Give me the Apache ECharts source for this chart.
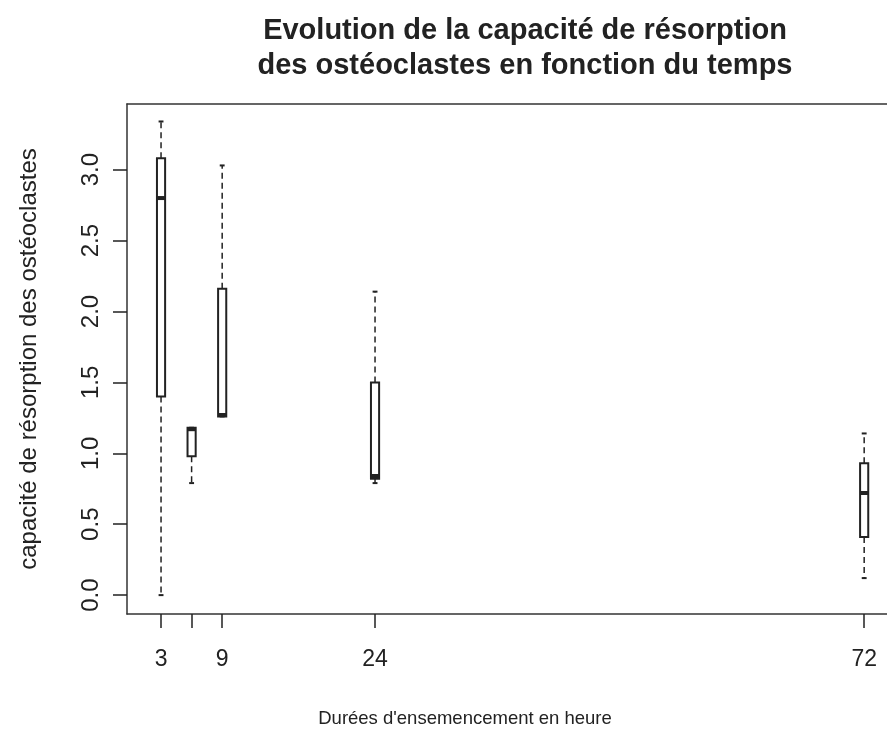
<!DOCTYPE html>
<html>
<head>
<meta charset="utf-8">
<script src="https://cdn.jsdelivr.net/npm/echarts@6/dist/echarts.min.js"></script>
<style>
  html, body { margin: 0; padding: 0; background: #fff; }
  #chart { width: 887px; height: 735px; }
</style>
</head>
<body>
<div id="chart"></div>
<script>
// Seeding duration (hours) and five-number summaries per group
const hours = [3, 6, 9, 24, 72];
const lowerWhisker = [0.00, 0.79, 1.26, 0.79, 0.12];
const lowerHinge   = [1.40, 0.98, 1.26, 0.82, 0.41];
const median       = [2.80, 1.17, 1.27, 0.84, 0.72];
const upperHinge   = [3.08, 1.18, 2.16, 1.50, 0.93];
const upperWhisker = [3.34, 1.18, 3.03, 2.14, 1.14];

const xTickValues = [3, 6, 9, 24, 72];
const xLabelValues = [3, 9, 24, 72];
const yTickValues = [0, 0.5, 1, 1.5, 2, 2.5, 3];

const ink = '#222';
const fontFamily = 'Liberation Sans, Arial, sans-serif';

const boxData = hours.map((h, i) => [h, lowerWhisker[i], lowerHinge[i], median[i], upperHinge[i], upperWhisker[i]]);

function renderBox(params, api) {
  const x = api.value(0);
  const lw = api.value(1), q1 = api.value(2), med = api.value(3), q3 = api.value(4), uw = api.value(5);
  const cx = api.coord([x, 0])[0];
  const py = v => api.coord([x, v])[1];
  const half = api.size([0.8, 0])[0] / 2;
  const cap = half * 0.6;
  const dashed = { stroke: ink, lineWidth: 1.5, lineDash: [6, 4] };
  const solid = { stroke: ink, lineWidth: 2 };
  return {
    type: 'group',
    children: [
      { type: 'line', shape: { x1: cx, y1: py(q3), x2: cx, y2: py(uw) }, style: dashed },
      { type: 'line', shape: { x1: cx, y1: py(q1), x2: cx, y2: py(lw) }, style: dashed },
      { type: 'line', shape: { x1: cx - cap, y1: py(uw), x2: cx + cap, y2: py(uw) }, style: solid },
      { type: 'line', shape: { x1: cx - cap, y1: py(lw), x2: cx + cap, y2: py(lw) }, style: solid },
      { type: 'rect', shape: { x: cx - half, y: py(q3), width: half * 2, height: py(q1) - py(q3) },
        style: { fill: '#fff', stroke: ink, lineWidth: 2 } },
      { type: 'line', shape: { x1: cx - half, y1: py(med), x2: cx + half, y2: py(med) },
        style: { stroke: ink, lineWidth: 4 } }
    ]
  };
}

const xMin = -0.34, xMax = 74.24;
const frameLine = { show: true, onZero: false, lineStyle: { color: '#333', width: 1.5 } };

const chart = echarts.init(document.getElementById('chart'), null, { renderer: 'canvas' });
chart.setOption({
  animation: false,
  backgroundColor: '#fff',
  title: [
    {
      text: 'Evolution de la capacité de résorption\ndes ostéoclastes en fonction du temps',
      left: 520, top: 8, textAlign: 'center',
      textStyle: { fontFamily, fontSize: 29, fontWeight: 'bold', color: ink, lineHeight: 35 }
    },
    {
      text: "Durées d'ensemencement en heure",
      left: 460, top: 704, textAlign: 'center',
      textStyle: { fontFamily, fontSize: 18.5, fontWeight: 'normal', color: ink }
    }
  ],
  grid: { left: 127, top: 104, right: 0, height: 510, show: false },
  xAxis: [
    {
      type: 'value', min: xMin, max: xMax, position: 'bottom',
      axisLine: frameLine,
      splitLine: { show: false },
      axisTick: { show: true, inside: false, length: 14, customValues: xTickValues,
        lineStyle: { color: ink, width: 1.5 } },
      axisLabel: { show: true, margin: 34, customValues: xLabelValues,
        fontFamily, fontSize: 23, color: ink }
    },
    {
      type: 'value', min: xMin, max: xMax, position: 'top',
      axisLine: frameLine,
      splitLine: { show: false },
      axisTick: { show: false },
      axisLabel: { show: false }
    }
  ],
  yAxis: {
    type: 'value', min: -0.1332, max: 3.4632,
    name: 'capacité de résorption des ostéoclastes',
    nameLocation: 'middle', nameGap: 86, nameRotate: 90,
    nameTextStyle: { fontFamily, fontSize: 24, color: ink },
    axisLine: frameLine,
    splitLine: { show: false },
    axisTick: { show: true, inside: false, length: 14, customValues: yTickValues,
      lineStyle: { color: ink, width: 1.5 } },
    axisLabel: { show: true, rotate: 90, margin: 24, customValues: yTickValues,
      fontFamily, fontSize: 24, color: ink,
      formatter: v => v.toFixed(1) }
  },
  series: [{
    type: 'custom',
    xAxisIndex: 0,
    renderItem: renderBox,
    data: boxData,
    encode: { x: 0, y: [1, 2, 3, 4, 5] },
    clip: false
  }]
});
</script>
</body>
</html>
